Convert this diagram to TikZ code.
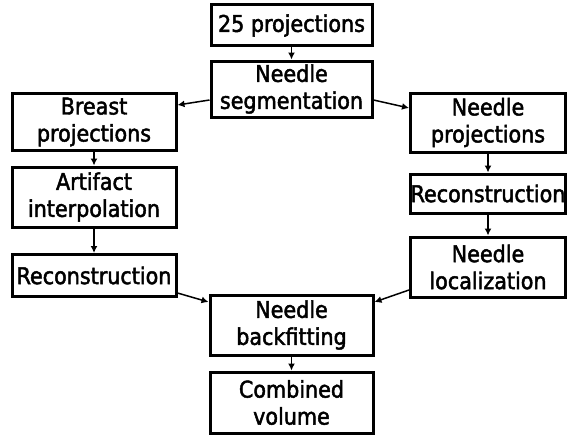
\documentclass[tikz,border=0pt]{standalone}
\usepackage{fontspec}
\setmainfont{DejaVu Sans Condensed}
\newfontfamily\boxfont{DejaVu Sans Condensed}[FakeBold=2]
\usetikzlibrary{arrows.meta}
\begin{document}
\begin{tikzpicture}[x=1pt,y=1pt,
  box/.style={draw,line width=3pt,align=center,inner sep=0pt,
    font=\fontsize{23}{27}\boxfont},
  conn/.style={line width=1.5pt,-{Latex[length=7pt,width=7pt]}}]
\useasboundingbox (0,0) rectangle (569,-436);
\node[box,minimum width=161,minimum height=41] (p25) at (291.5,-25.5) {25 projections};
\node[box,minimum width=161,minimum height=56] (seg) at (291.5,-89) {Needle\\segmentation};
\node[box,minimum width=164,minimum height=57] (breast) at (94,-122) {Breast\\projections};
\node[box,minimum width=164,minimum height=60] (artif) at (94,-197) {Artifact\\interpolation};
\node[box,minimum width=164,minimum height=42] (recL) at (94,-275.5) {Reconstruction};
\node[box,minimum width=155,minimum height=59] (nproj) at (488,-122.5) {Needle\\projections};
\node[box,minimum width=155,minimum height=39] (recR) at (488,-193.5) {Reconstruction};
\node[box,minimum width=155,minimum height=60] (loc) at (488,-267) {Needle\\localization};
\node[box,minimum width=163,minimum height=60] (back) at (291.5,-325) {Needle\\backfitting};
\node[box,minimum width=163,minimum height=61] (comb) at (291.5,-402.5) {Combined\\volume};
\draw[conn] (p25) -- (seg);
\draw[conn] ([yshift=-11pt]seg.west) -- ([yshift=17pt]breast.east);
\draw[conn] ([yshift=-11pt]seg.east) -- ([yshift=14.5pt]nproj.east -| nproj.west);
\draw[conn] (breast) -- (artif);
\draw[conn] (artif) -- (recL);
\draw[conn] (nproj) -- (recR);
\draw[conn] (recR) -- (loc);
\draw[conn] ([yshift=-17.5pt]recL.east) -- ([yshift=23pt]back.west);
\draw[conn] ([yshift=-23pt]loc.west) -- ([yshift=23pt]back.east);
\draw[conn] (back) -- (comb);
\end{tikzpicture}
\end{document}
